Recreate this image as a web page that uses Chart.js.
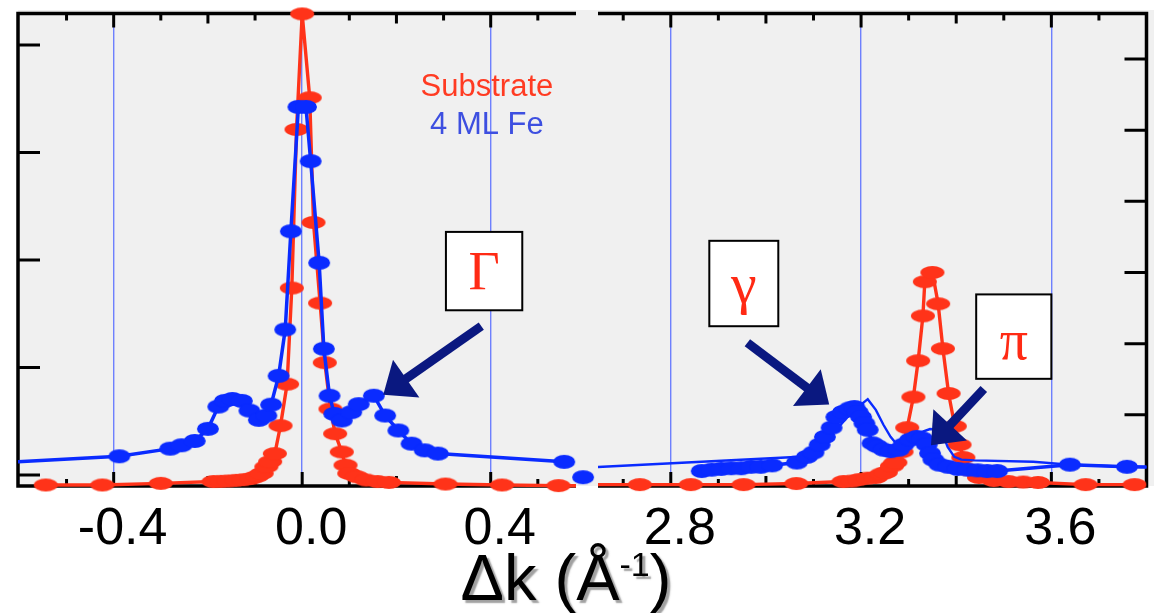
<!DOCTYPE html>
<html>
<head>
<meta charset="utf-8">
<script src="https://cdn.jsdelivr.net/npm/chart.js@4.4.1/dist/chart.umd.min.js"></script>
<style>
  html, body { margin: 0; padding: 0; background: #ffffff; width: 1160px; height: 613px; overflow: hidden; }
  #plotBg { position: absolute; left: 18px; top: 10px; width: 1136px; height: 476px; background: #f0f0f0; }
  canvas { position: absolute; left: 0; top: 0; }
</style>
</head>
<body>
<div id="plotBg"></div>
<canvas id="leftPanel" width="1160" height="613"></canvas>
<canvas id="rightPanel" width="1160" height="613"></canvas>
<script>
// ---- Series names and labels ----
const seriesNames = ['Substrate', '4 ML Fe'];
const peakSymbols = ['Γ', 'γ', 'π'];
const axisTitleParts = ['Δk (Å', '-1', ')'];

// ---- Tick values ----
const leftTickLabels = [-0.4, 0.0, 0.4];
const rightTickLabels = [2.8, 3.2, 3.6];
const leftMinorTicks = [-0.5, -0.4, -0.3, -0.2, -0.1, 0.0, 0.1, 0.2, 0.3, 0.4, 0.5];
const rightMinorTicks = [2.7, 2.8, 2.9, 3.0, 3.1, 3.2, 3.3, 3.4, 3.5, 3.6, 3.7];
const leftIntensityTicks = [0, 1, 2, 3, 4];
const rightIntensityTicks = [1, 2, 3, 4, 5, 6];

// ---- Axis ranges ----
const leftKRange = [-0.603, 0.581];
const rightKRange = [2.647, 3.8];
const leftIRange = [-0.1016, 4.2936];
const rightIRange = [0, 6.639];

// ---- Specular region (around k = 0) ----
const substrateLeftK = [-0.544, -0.424, -0.300, -0.188, -0.172, -0.156, -0.140, -0.124, -0.108, -0.096,
  -0.086, -0.076, -0.068, -0.058, -0.046, -0.032, -0.022, -0.012, 0.000, 0.016, 0.024, 0.038, 0.048,
  0.060, 0.070, 0.084, 0.092, 0.100, 0.116, 0.136, 0.160, 0.184, 0.304, 0.424, 0.544, 0.660];
const substrateLeftI = [-0.092, -0.092, -0.077, -0.060, -0.058, -0.055, -0.049, -0.043, -0.031, -0.012,
  0.015, 0.077, 0.125, 0.200, 0.460, 0.846, 1.740, 3.215, 4.290, 3.510, 2.350, 1.600, 1.046,
  0.615, 0.385, 0.215, 0.092, 0.015, -0.015, -0.046, -0.060, -0.068, -0.083, -0.092, -0.098, -0.100];

const feLeftK = [-0.650, -0.388, -0.280, -0.256, -0.228, -0.200, -0.178, -0.164, -0.148, -0.128, -0.112,
  -0.092, -0.076, -0.066, -0.050, -0.036, -0.024, -0.008, 0.008, 0.018, 0.036, 0.046, 0.058, 0.068,
  0.084, 0.104, 0.120, 0.152, 0.176, 0.204, 0.232, 0.260, 0.288, 0.556, 0.576, 0.596];
const feLeftI = [0.112, 0.175, 0.246, 0.277, 0.317, 0.430, 0.637, 0.690, 0.708, 0.690, 0.600,
  0.514, 0.554, 0.655, 0.923, 1.354, 2.268, 3.425, 3.425, 2.920, 1.975, 1.175, 0.738, 0.569,
  0.508, 0.585, 0.660, 0.738, 0.554, 0.415, 0.292, 0.230, 0.200, 0.123, null, -0.020];

// ---- Off-specular region (k = 2.6 ... 3.8) ----
const substrateRightK = [2.600, 2.735, 2.842, 2.953, 3.064, 3.163, 3.181, 3.196, 3.214, 3.231, 3.243, 3.252,
  3.265, 3.272, 3.285, 3.297, 3.310, 3.320, 3.330, 3.334, 3.350, 3.362, 3.372, 3.384, 3.397, 3.407,
  3.415, 3.425, 3.448, 3.479, 3.510, 3.541, 3.572, 3.672, 3.775];
const substrateRightI = [0.020, 0.020, 0.020, 0.020, 0.035, 0.063, 0.070, 0.090, 0.110, 0.120, 0.170, 0.190,
  0.280, 0.330, 0.480, 0.820, 1.250, 1.760, 2.390, 2.870, 3.000, 2.560, 1.930, 1.300, 0.840, 0.580,
  0.400, 0.230, 0.120, 0.077, 0.063, 0.056, 0.050, 0.020, 0.020];

const feRightK = [2.865, 2.886, 2.906, 2.927, 2.948, 2.969, 2.989, 3.013, 3.065, 3.086, 3.100, 3.113,
  3.124, 3.138, 3.148, 3.162, 3.176, 3.186, 3.193, 3.200, 3.207, 3.214, 3.224, 3.234, 3.248, 3.262,
  3.279, 3.289, 3.303, 3.317, 3.328, 3.338, 3.345, 3.352, 3.365, 3.383, 3.403, 3.424, 3.445, 3.465,
  3.486, 3.639, 3.759, 3.850];
const feRightI = [0.21, 0.23, 0.24, 0.25, 0.25, 0.27, 0.27, 0.29, 0.33, 0.41, 0.47, 0.58,
  0.69, 0.82, 0.97, 1.04, 1.09, 1.11, 1.04, 0.97, 0.88, 0.79, 0.60, 0.56, 0.51, 0.49,
  0.51, 0.58, 0.65, 0.69, 0.67, 0.58, 0.46, 0.37, 0.30, 0.27, 0.24, 0.23, 0.22, 0.21,
  0.21, 0.30, 0.27, 0.26];

const feRightTraceK = [2.600, 3.072, 3.107, 3.148, 3.179, 3.214, 3.231, 3.247, 3.262, 3.276, 3.297, 3.324,
  3.345, 3.368, 3.382, 3.396, 3.411, 3.438, 3.562, 3.639, 3.759, 3.850];
const feRightTraceI = [0.25, 0.41, 0.58, 0.79, 1.03, 1.22, 1.07, 0.86, 0.69, 0.58, 0.58, 0.75,
  0.80, 0.79, 0.55, 0.41, 0.37, 0.36, 0.34, 0.30, 0.27, 0.26];

// ---- Styles ----
const RED = '#ff3319';
const BLUE = '#0a2bff';
const NAVY = '#0a1880';
const GRID_BLUE = 'rgba(95,115,255,0.9)';
const SANS = '"Liberation Sans", Arial, sans-serif';
const SERIF = '"Liberation Serif", "Times New Roman", serif';
const BOTTOM_SPACE = 127;

function pts(xs, ys) { return xs.map((x, i) => ({ x: x, y: ys[i] })); }

function ellipseMarker(color, w, h) {
  const c = document.createElement('canvas');
  c.width = w + 2; c.height = h + 2;
  const g = c.getContext('2d');
  g.fillStyle = color;
  g.beginPath();
  g.ellipse(c.width / 2, c.height / 2, w / 2, h / 2, 0, 0, Math.PI * 2);
  g.fill();
  return c;
}
const redMarker = ellipseMarker(RED, 24, 13);
const blueMarker = ellipseMarker(BLUE, 22, 14);

function xScale(range, labels) {
  return {
    type: 'linear', min: range[0], max: range[1],
    afterBuildTicks: s => { s.ticks = labels.map(v => ({ value: v })); },
    afterFit: s => { s.height = BOTTOM_SPACE; },
    grid: { color: GRID_BLUE, lineWidth: 1.4, drawTicks: false },
    border: { display: false },
    ticks: {
      font: { family: SANS, size: 52 }, color: '#000', padding: 12, labelOffset: 9,
      maxRotation: 0, autoSkip: false, callback: v => Number(v).toFixed(1)
    }
  };
}

// Frame, inward tick marks on the top/bottom axes and on the outer side axis
function framePlugin(side, minorTicks, majorTicks, yTicks) {
  return {
    id: 'frame_' + side,
    beforeDatasetsDraw(chart) {
      const { ctx, chartArea: a, scales } = chart;
      const x = scales.x, y = scales.y;
      const lw = 3.5;
      const sx = side === 'left' ? a.left : a.right;
      ctx.save();
      ctx.strokeStyle = '#000';
      ctx.lineCap = 'butt';
      ctx.lineWidth = lw;
      ctx.beginPath();
      const x0 = side === 'left' ? a.left - lw / 2 : a.left;
      const x1 = side === 'left' ? a.right : a.right + lw / 2;
      ctx.moveTo(x0, a.top); ctx.lineTo(x1, a.top);
      ctx.moveTo(x0, a.bottom); ctx.lineTo(x1, a.bottom);
      ctx.moveTo(sx, a.top); ctx.lineTo(sx, a.bottom);
      ctx.stroke();
      ctx.lineWidth = 3;
      ctx.beginPath();
      minorTicks.forEach(v => {
        const px = x.getPixelForValue(v);
        const isMajor = majorTicks.some(m => Math.abs(m - v) < 1e-6);
        const isMid = Math.round(v * 10) % 2 === 0;
        const len = isMajor ? 14 : (isMid ? 10 : 7);
        ctx.moveTo(px, a.top); ctx.lineTo(px, a.top + len);
        ctx.moveTo(px, a.bottom); ctx.lineTo(px, a.bottom - len);
      });
      const dir = side === 'left' ? 1 : -1;
      yTicks.forEach(v => {
        const py = y.getPixelForValue(v);
        ctx.moveTo(sx, py); ctx.lineTo(sx + dir * 22, py);
      });
      ctx.stroke();
      ctx.restore();
    }
  };
}

// Labels, peak boxes and arrows, positioned in data coordinates
function notesPlugin(notes) {
  return {
    id: 'notes',
    afterDatasetsDraw(chart) {
      const { ctx, scales: { x, y } } = chart;
      ctx.save();
      (notes.labels || []).forEach(l => {
        ctx.font = l.font;
        ctx.fillStyle = l.color;
        ctx.textAlign = 'center';
        ctx.textBaseline = 'alphabetic';
        ctx.fillText(l.text, x.getPixelForValue(l.x), y.getPixelForValue(l.y));
      });
      (notes.arrows || []).forEach(ar => {
        const tx = x.getPixelForValue(ar.from[0]), ty = y.getPixelForValue(ar.from[1]);
        const hx = x.getPixelForValue(ar.to[0]), hy = y.getPixelForValue(ar.to[1]);
        const dx = hx - tx, dy = hy - ty, len = Math.hypot(dx, dy);
        const ux = dx / len, uy = dy / len, nx = -uy, ny = ux;
        const headL = 28, headW = 23;
        const bx = hx - ux * headL, by = hy - uy * headL;
        ctx.strokeStyle = NAVY; ctx.fillStyle = NAVY;
        ctx.lineWidth = 9; ctx.lineCap = 'butt';
        ctx.beginPath(); ctx.moveTo(tx, ty); ctx.lineTo(bx + ux * 2, by + uy * 2); ctx.stroke();
        ctx.beginPath();
        ctx.moveTo(hx, hy);
        ctx.lineTo(bx + nx * headW, by + ny * headW);
        ctx.lineTo(bx - nx * headW, by - ny * headW);
        ctx.closePath(); ctx.fill();
      });
      (notes.boxes || []).forEach(b => {
        const l = x.getPixelForValue(b.x0), r = x.getPixelForValue(b.x1);
        const t = y.getPixelForValue(b.y0), btm = y.getPixelForValue(b.y1);
        ctx.fillStyle = '#ffffff';
        ctx.fillRect(l, t, r - l, btm - t);
        ctx.strokeStyle = '#000'; ctx.lineWidth = 2;
        ctx.strokeRect(l, t, r - l, btm - t);
        ctx.fillStyle = '#ff2a14';
        ctx.font = b.font;
        ctx.textAlign = 'center';
        ctx.textBaseline = 'alphabetic';
        ctx.fillText(b.text, (l + r) / 2, y.getPixelForValue(b.baseline));
      });
      ctx.restore();
    }
  };
}

// Shared axis title under both panels
const titlePlugin = {
  id: 'axisTitle',
  afterDraw(chart) {
    const ctx = chart.ctx;
    const big = '65px ' + SANS, small = '34px ' + SANS;
    const parts = [[axisTitleParts[0], big, 0], [axisTitleParts[1], small, -24], [axisTitleParts[2], big, 0]];
    ctx.save();
    let total = 0;
    parts.forEach(p => { ctx.font = p[1]; total += ctx.measureText(p[0]).width; });
    let cx = 566 - total / 2;
    ctx.textBaseline = 'alphabetic';
    ctx.textAlign = 'left';
    ctx.fillStyle = '#000';
    ctx.shadowColor = 'rgba(120,120,120,0.7)';
    ctx.shadowOffsetX = 3; ctx.shadowOffsetY = 3; ctx.shadowBlur = 1.5;
    parts.forEach(p => {
      ctx.font = p[1];
      ctx.fillText(p[0], cx, 600 + p[2]);
      cx += ctx.measureText(p[0]).width;
    });
    ctx.restore();
  }
};

const baseOptions = (padding) => ({
  responsive: false,
  animation: false,
  events: [],
  layout: { padding: padding },
  plugins: { legend: { display: false }, tooltip: { enabled: false } }
});

// ---- Left panel: specular beam ----
new Chart(document.getElementById('leftPanel'), {
  type: 'line',
  data: {
    datasets: [
      { label: seriesNames[1], data: pts(feLeftK, feLeftI), borderColor: BLUE, borderWidth: 3.5,
        pointStyle: blueMarker, pointRadius: 10, pointHoverRadius: 10, spanGaps: false,
        clip: { left: 0, right: 20, top: 15, bottom: 15 } },
      { label: seriesNames[0], data: pts(substrateLeftK, substrateLeftI), borderColor: RED, borderWidth: 3.4,
        pointStyle: redMarker, pointRadius: 10, pointHoverRadius: 10,
        clip: { left: 0, right: 0, top: 15, bottom: 15 } }
    ]
  },
  options: Object.assign(baseOptions({ left: 18, top: 10, right: 584, bottom: 0 }), {
    scales: {
      x: xScale(leftKRange, leftTickLabels),
      y: { type: 'linear', display: false, min: leftIRange[0], max: leftIRange[1] }
    }
  }),
  plugins: [
    framePlugin('left', leftMinorTicks, leftTickLabels, leftIntensityTicks),
    notesPlugin({
      labels: [
        { text: seriesNames[0], x: 0.392, y: 3.527, color: '#ff3b22', font: '31px ' + SANS },
        { text: seriesNames[1], x: 0.392, y: 3.172, color: '#3d4fe0', font: '31px ' + SANS }
      ],
      arrows: [{ from: [0.380, 1.385], to: [0.172, 0.748] }],
      boxes: [{ text: peakSymbols[0], x0: 0.305, x1: 0.467, y0: 2.262, y1: 1.533, baseline: 1.727, font: '54px ' + SERIF }]
    }),
    titlePlugin
  ]
});

// ---- Right panel: off-specular peaks ----
new Chart(document.getElementById('rightPanel'), {
  type: 'line',
  data: {
    datasets: [
      { label: seriesNames[1], data: pts(feRightK, feRightI), borderColor: BLUE, borderWidth: 3.5,
        pointStyle: blueMarker, pointRadius: 10, pointHoverRadius: 10,
        clip: { left: 0, right: 0, top: 15, bottom: 15 } },
      { label: seriesNames[1] + ' trace', data: pts(feRightTraceK, feRightTraceI), borderColor: BLUE, borderWidth: 2.4,
        pointRadius: 0, pointHoverRadius: 0,
        clip: { left: 0, right: 0, top: 15, bottom: 15 } },
      { label: seriesNames[0], data: pts(substrateRightK, substrateRightI), borderColor: RED, borderWidth: 3.4,
        pointStyle: redMarker, pointRadius: 10, pointHoverRadius: 10,
        clip: { left: 0, right: 0, top: 15, bottom: 15 } }
    ]
  },
  options: Object.assign(baseOptions({ left: 598, top: 10, right: 6, bottom: 0 }), {
    scales: {
      x: xScale(rightKRange, rightTickLabels),
      y: { type: 'linear', display: false, min: rightIRange[0], max: rightIRange[1] }
    }
  }),
  plugins: [
    framePlugin('right', rightMinorTicks, rightTickLabels, rightIntensityTicks),
    notesPlugin({
      arrows: [
        { from: [2.961, 2.013], to: [3.133, 1.144] },
        { from: [3.458, 1.363], to: [3.347, 0.572] }
      ],
      boxes: [
        { text: peakSymbols[1], x0: 2.881, x1: 3.026, y0: 3.445, y1: 2.245, baseline: 2.566, font: '58px ' + SERIF },
        { text: peakSymbols[2], x0: 3.442, x1: 3.600, y0: 2.692, y1: 1.506, baseline: 1.785, font: '56px ' + SERIF }
      ]
    })
  ]
});
</script>
</body>
</html>
